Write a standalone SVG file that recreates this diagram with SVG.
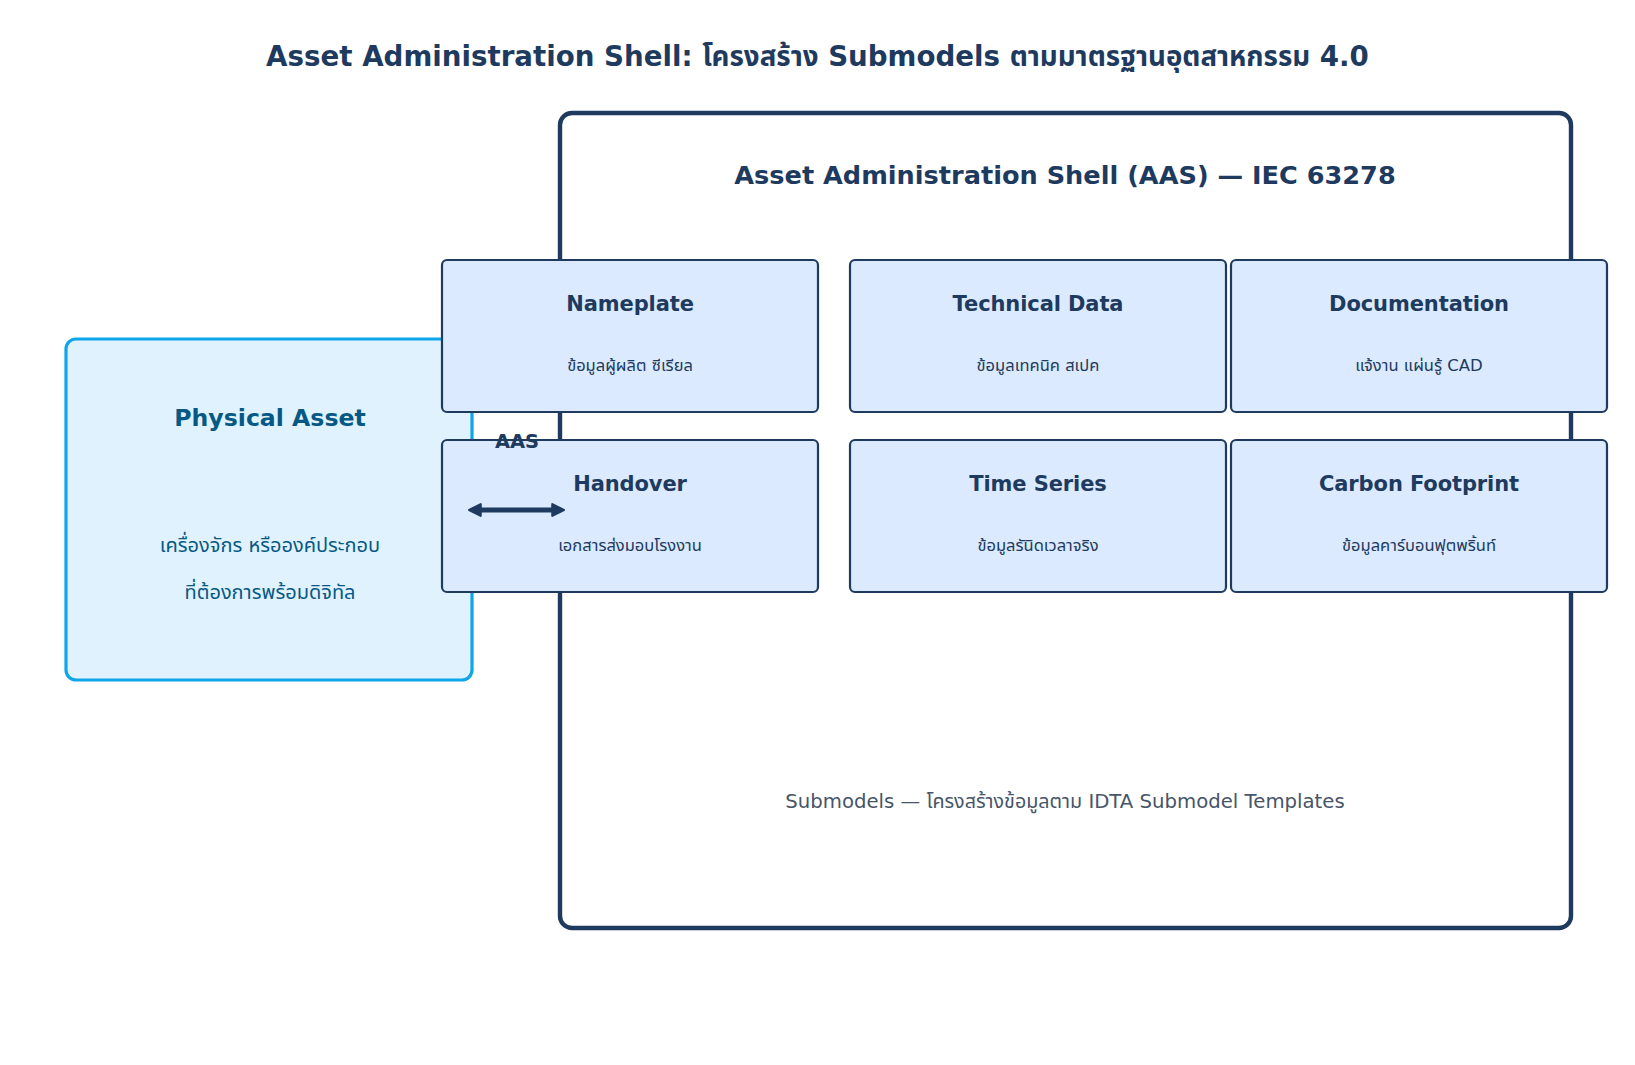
<svg xmlns="http://www.w3.org/2000/svg" width="1635" height="1065" viewBox="0 0 1635 1065">
<style>
text{font-family:"DejaVu Sans","Noto Sans","Noto Sans Thai",sans-serif;text-anchor:middle}
.sm rect{fill:#dbeafe;stroke:#1e3a5f;stroke-width:2.2}
.t{font-weight:bold;font-size:21px;fill:#1e3a5f;letter-spacing:-0.1px}
.s{font-size:16.5px;fill:#1e3a5f}
</style>
<defs>
<marker id="ah" viewBox="0 0 10 10" refX="7" refY="5" markerWidth="2.9" markerHeight="2.9" orient="auto-start-reverse" markerUnits="strokeWidth">
<path d="M1,1 L9,5 L1,9 Z" fill="#1e3a5f" stroke="#1e3a5f" stroke-width="1.5" stroke-linejoin="round"/>
</marker>
</defs>
<rect width="1635" height="1065" fill="#ffffff"/>
<text x="817.5" y="66" style="font-weight:bold;font-size:27.7px;fill:#1e3a5f">Asset Administration Shell: โครงสร้าง Submodels ตามมาตรฐานอุตสาหกรรม 4.0</text>
<g id="aas">
<rect x="560" y="113" width="1011" height="815" rx="12" fill="#ffffff" stroke="#1e3a5f" stroke-width="4.4"/>
<text x="1065" y="184" style="font-weight:bold;font-size:25.6px;fill:#1e3a5f">Asset Administration Shell (AAS) — IEC 63278</text>
<text x="1065" y="808" style="font-size:19.7px;fill:#475569">Submodels — โครงสร้างข้อมูลตาม IDTA Submodel Templates</text>
</g>
<g id="physical">
<rect x="66" y="339" width="406" height="341" rx="10" fill="#e0f2fe" stroke="#0ea5e9" stroke-width="3.2"/>
<text x="270" y="426" style="font-weight:bold;font-size:23.6px;fill:#075985">Physical Asset</text>
<text x="270" y="552" style="font-size:20px;fill:#075985">เครื่องจักร หรือองค์ประกอบ</text>
<text x="270" y="599" style="font-size:20px;fill:#075985">ที่ต้องการพร้อมดิจิทัล</text>
</g>
<g id="nameplate" class="sm"><rect x="442" y="260" width="376" height="152" rx="5"/><text class="t" x="630" y="311">Nameplate</text><text class="s" x="630" y="371">ข้อมูลผู้ผลิต ซีเรียล</text></g>
<g id="technical" class="sm"><rect x="850" y="260" width="376" height="152" rx="5"/><text class="t" x="1038" y="311">Technical Data</text><text class="s" x="1038" y="371">ข้อมูลเทคนิค สเปค</text></g>
<g id="documentation" class="sm"><rect x="1231" y="260" width="376" height="152" rx="5"/><text class="t" x="1419" y="311">Documentation</text><text class="s" x="1419" y="371">แจ้งาน แผ่นรู้ CAD</text></g>
<g id="handover" class="sm"><rect x="442" y="440" width="376" height="152" rx="5"/><text class="t" x="630" y="491">Handover</text><text class="s" x="630" y="551">เอกสารส่งมอบโรงงาน</text></g>
<g id="timeseries" class="sm"><rect x="850" y="440" width="376" height="152" rx="5"/><text class="t" x="1038" y="491">Time Series</text><text class="s" x="1038" y="551">ข้อมูลรันิดเวลาจริง</text></g>
<g id="carbon" class="sm"><rect x="1231" y="440" width="376" height="152" rx="5"/><text class="t" x="1419" y="491">Carbon Footprint</text><text class="s" x="1419" y="551">ข้อมูลคาร์บอนฟุตพริ้นท์</text></g>
<g id="connectors">
<line x1="472" y1="510" x2="561" y2="510" stroke="#1e3a5f" stroke-width="5" marker-start="url(#ah)" marker-end="url(#ah)"/>
<text x="517" y="448" style="font-weight:bold;font-size:19.5px;fill:#1e3a5f">AAS</text>
</g>
</svg>
